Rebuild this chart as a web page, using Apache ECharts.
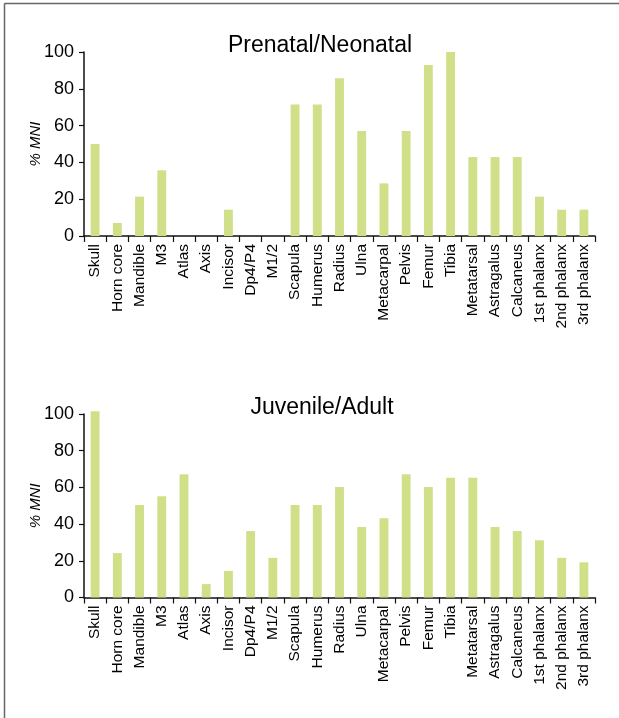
<!DOCTYPE html>
<html>
<head>
<meta charset="utf-8">
<script src="https://cdn.jsdelivr.net/npm/echarts@6/dist/echarts.min.js"></script>
<style>
  html, body { margin: 0; padding: 0; background: #fff; }
  #chart { width: 619px; height: 718px; }
</style>
</head>
<body>
<div id="chart"></div>
<script>
// Skeletal elements (shared by both panels)
const elements = ['Skull', 'Horn core', 'Mandible', 'M3', 'Atlas', 'Axis', 'Incisor', 'Dp4/P4', 'M1/2',
  'Scapula', 'Humerus', 'Radius', 'Ulna', 'Metacarpal', 'Pelvis', 'Femur', 'Tibia', 'Metatarsal',
  'Astragalus', 'Calcaneus', '1st phalanx', '2nd phalanx', '3rd phalanx'];

// % MNI, prenatal/neonatal individuals
const prenatalNeonatal = [50, 7.1, 21.4, 35.7, 0, 0, 14.3, 0, 0,
  71.4, 71.4, 85.7, 57.1, 28.6, 57.1, 92.9, 100, 42.9,
  42.9, 42.9, 21.4, 14.3, 14.3];

// % MNI, juvenile/adult individuals
const juvenileAdult = [101.5, 24.2, 50.4, 55.2, 67.2, 7.3, 14.5, 36.2, 21.6,
  50.4, 50.4, 60.2, 38.4, 43.2, 67.2, 60.2, 65.2, 65.2,
  38.4, 36.2, 31.2, 21.6, 19.2];

const panelTitles = ['Prenatal/Neonatal', 'Juvenile/Adult'];
const yTicks = { min: 0, max: 100, interval: 20 };

const FONT = 'Liberation Sans, Arial, sans-serif';
const BAR = '#cfe088';
const AXIS = '#111';

const grids = [
  { left: 84, top: 52, width: 511, height: 184 },
  { left: 84, top: 414, width: 511, height: 183.5 }
];

function xAxisFor(i) {
  return {
    type: 'category', gridIndex: i, data: elements,
    axisLine: { lineStyle: { color: AXIS, width: 1.5 } },
    axisTick: { show: true, alignWithLabel: false, length: 6, lineStyle: { color: AXIS, width: 1.2 } },
    axisLabel: { rotate: 90, interval: 0, margin: 8, color: '#000', fontSize: 15.5, fontFamily: FONT }
  };
}

function yAxisFor(i) {
  return {
    type: 'value', gridIndex: i, min: yTicks.min, max: yTicks.max, interval: yTicks.interval,
    name: '% MNI', nameLocation: 'middle', nameRotate: 90, nameGap: 41, nameMoveOverlap: false,
    nameTextStyle: { fontStyle: 'italic', fontSize: 15, color: '#000', fontFamily: FONT },
    splitLine: { show: false },
    axisLine: { show: true, lineStyle: { color: AXIS, width: 1.5 } },
    axisTick: { show: true, length: 5, lineStyle: { color: AXIS, width: 1.2 } },
    axisLabel: { margin: 10, color: '#000', fontSize: 18, fontFamily: FONT }
  };
}

const chart = echarts.init(document.getElementById('chart'), null, { renderer: 'canvas' });
chart.setOption({
  animation: false,
  backgroundColor: '#fff',
  title: [
    { text: panelTitles[0], left: 315, top: 29, textAlign: 'center',
      textStyle: { fontSize: 23, fontWeight: 'normal', color: '#000', fontFamily: FONT } },
    { text: panelTitles[1], left: 317, top: 391, textAlign: 'center',
      textStyle: { fontSize: 23, fontWeight: 'normal', color: '#000', fontFamily: FONT } }
  ],
  // Frame: top and left edges of the figure border
  graphic: [
    { type: 'line', silent: true, z: -1,
      shape: { x1: 4.5, y1: 3.5, x2: 619, y2: 3.5 },
      style: { stroke: '#666', lineWidth: 1.5 } },
    { type: 'line', silent: true, z: -1,
      shape: { x1: 4.5, y1: 3.5, x2: 4.5, y2: 718 },
      style: { stroke: '#666', lineWidth: 1.5 } }
  ],
  grid: grids,
  xAxis: [xAxisFor(0), xAxisFor(1)],
  yAxis: [yAxisFor(0), yAxisFor(1)],
  series: [
    { type: 'bar', xAxisIndex: 0, yAxisIndex: 0, data: prenatalNeonatal, barWidth: '40%',
      itemStyle: { color: BAR }, clip: false },
    { type: 'bar', xAxisIndex: 1, yAxisIndex: 1, data: juvenileAdult, barWidth: '40%',
      itemStyle: { color: BAR }, clip: false }
  ]
});
</script>
</body>
</html>
